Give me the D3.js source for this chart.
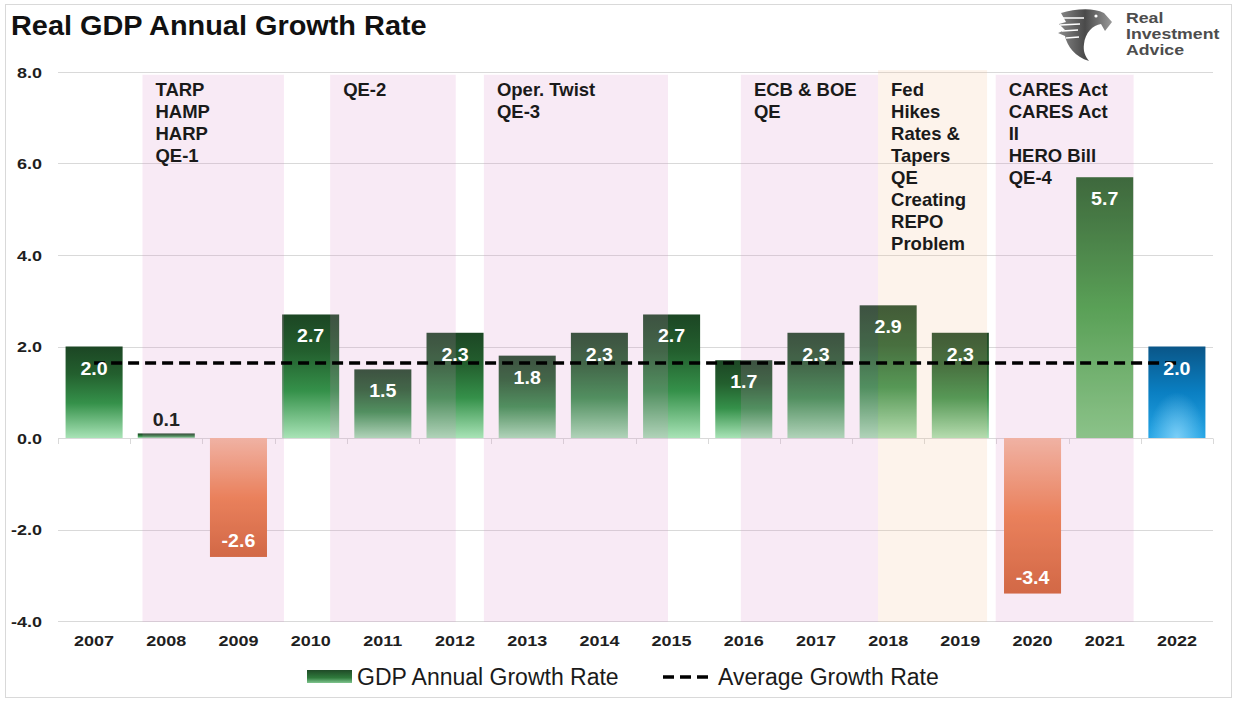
<!DOCTYPE html>
<html>
<head>
<meta charset="utf-8">
<script src="https://cdn.jsdelivr.net/npm/d3@7"></script>
<style>
  html, body { margin: 0; padding: 0; background: #ffffff; }
  svg { display: block; font-family: "Liberation Sans", Arial, Helvetica, sans-serif; }
</style>
</head>
<body>
<svg id="chart" width="1235" height="702"></svg>
<script>
// ---------------- DATA ----------------
const years = ["2007","2008","2009","2010","2011","2012","2013","2014","2015","2016","2017","2018","2019","2020","2021","2022"];
const growthRate = [2.0, 0.1, -2.6, 2.7, 1.5, 2.3, 1.8, 2.3, 2.7, 1.7, 2.3, 2.9, 2.3, -3.4, 5.7, 2.0];
const averageRate = [1.64, 1.64, 1.64, 1.64, 1.64, 1.64, 1.64, 1.64, 1.64, 1.64, 1.64, 1.64, 1.64, 1.64, 1.64, 1.64];
const yTicks = [-4, -2, 0, 2, 4, 6, 8];

// policy programs (time spans in fractional years)
const programLines = [
  ["TARP", "HAMP", "HARP", "QE-1"],
  ["QE-2"],
  ["Oper. Twist", "QE-3"],
  ["ECB & BOE", "QE"],
  ["Fed", "Hikes", "Rates &", "Tapers", "QE", "Creating", "REPO", "Problem"],
  ["CARES Act", "CARES Act", "II", "HERO Bill", "QE-4"]
];
const programStart = [2008.17, 2010.77, 2012.90, 2016.46, 2018.36, 2019.99];
const programEnd   = [2010.13, 2012.51, 2015.45, 2018.36, 2019.87, 2021.90];
const programType  = ["easing", "easing", "easing", "easing", "tightening", "easing"];

const titleText = "Real GDP Annual Growth Rate";
const legendLabels = ["GDP Annual Growth Rate", "Average Growth Rate"];

// ---------------- LAYOUT ----------------
const W = 1235, H = 702;
const plot = { left: 58, right: 1213, top: 72, bottom: 621 };
const svg = d3.select("#chart");
const defs = svg.append("defs");
const fmt = d3.formatLocale({ decimal: ".", thousands: ",", grouping: [3], currency: ["$", ""], minus: "-" }).format(".1f");

const x = d3.scaleBand().domain(years).range([plot.left, plot.right]).paddingInner(0.21).paddingOuter(0.105);
const xTime = d3.scaleLinear().domain([+years[0], +years[years.length - 1] + 1]).range([plot.left, plot.right]);
const y = d3.scaleLinear().domain([-4, 8]).range([plot.bottom, plot.top]);

// gradients
function linGrad(id, stops, horizontal) {
  const g = defs.append("linearGradient").attr("id", id)
    .attr("x1", 0).attr("y1", 0).attr("x2", horizontal ? 1 : 0).attr("y2", horizontal ? 0 : 1);
  stops.forEach(s => g.append("stop").attr("offset", s[0]).attr("stop-color", s[1]).attr("stop-opacity", s[2] == null ? 1 : s[2]));
}
linGrad("gGreen", [[0, "#1c4624"], [0.3, "#235f2e"], [0.62, "#35914a"], [1, "#a8e3b6"]]);
linGrad("gGreen2", [[0, "#1d611f"], [0.5, "#3ea53e"], [1, "#7bcf7c"]]);
linGrad("gOrange", [[0, "#f6bb9c"], [0.5, "#ee7f45"], [1, "#d1612a"]]);
linGrad("gBlue", [[0, "#0a5688"], [0.5, "#0a7fc2"], [1, "#26a6e6"]]);
const rg = defs.append("radialGradient").attr("id", "gBlueGlow").attr("cx", 0.5).attr("cy", 1).attr("r", 0.5);
rg.append("stop").attr("offset", 0).attr("stop-color", "#9fe0ff").attr("stop-opacity", 0.7);
rg.append("stop").attr("offset", 1).attr("stop-color", "#9fe0ff").attr("stop-opacity", 0);
linGrad("gLegend", [[0, "#1f4a27"], [0.6, "#2f7a3c"], [1, "#7fc58e"]]);
linGrad("gLogo", [[0, "#8a8a8a"], [0.5, "#4a4a4a"], [1, "#9a9a9a"]], true);

function barFill(d, i) {
  if (d < 0) return "url(#gOrange)";
  if (i === years.length - 1) return "url(#gBlue)";
  if (i === years.length - 2) return "url(#gGreen2)";
  return "url(#gGreen)";
}

// outer border
svg.append("rect").attr("x", 5.5).attr("y", 4.5).attr("width", 1226).attr("height", 693)
  .attr("fill", "#fff").attr("stroke", "#d9d9d9").attr("stroke-width", 1);

// title
svg.append("text").attr("transform", "translate(11,35) scale(1.07,1)")
  .attr("font-size", 27).attr("font-weight", "bold").attr("fill", "#111").text(titleText);

// logo
const logo = svg.append("g");
logo.append("path")
  .attr("d", "M1061,13 C1074,9 1093,7 1104,13 L1112,22 L1105,31 L1101,24 C1093,25 1085,33 1084,44 C1083,51 1085,56 1089,61 C1075,57 1067,46 1065,36 L1058,33 L1065,30 L1059,24 L1066,22 Z")
  .attr("fill", "url(#gLogo)");
logo.append("path").attr("d", "M1062,18 L1084,18 M1060,25 L1080,24 M1062,31 L1078,30 M1066,38 L1079,37")
  .attr("stroke", "#fff").attr("stroke-width", 1.6).attr("fill", "none");
logo.append("circle").attr("cx", 1096).attr("cy", 16).attr("r", 1.6).attr("fill", "#fff");
["Real", "Investment", "Advice"].forEach((t, k) => {
  logo.append("text").attr("transform", `translate(1126,${23 + k * 15.8}) scale(1.18,1)`)
    .attr("font-size", 15).attr("font-weight", "bold").attr("fill", "#4d4d4d").text(t);
});

// gridlines
svg.append("g").selectAll("line").data(yTicks).join("line")
  .attr("x1", plot.left).attr("x2", plot.right)
  .attr("y1", d => Math.round(y(d)) + 0.5).attr("y2", d => Math.round(y(d)) + 0.5)
  .attr("stroke", "#d9d9d9").attr("stroke-width", 1);

// x-axis tick marks at category boundaries
const bounds = years.map(v => x(v) - x.step() * x.paddingInner() / 2).concat([plot.right]);
svg.append("g").selectAll("line").data(bounds).join("line")
  .attr("x1", d => Math.round(d) + 0.5).attr("x2", d => Math.round(d) + 0.5)
  .attr("y1", Math.round(y(0)) + 0.5).attr("y2", Math.round(y(0)) + 6)
  .attr("stroke", "#d9d9d9");

// y-axis labels
const yAxis = svg.append("g").attr("transform", `translate(${plot.left},0)`)
  .call(d3.axisLeft(y).tickValues(yTicks).tickFormat(fmt).tickSize(0).tickPadding(16));
yAxis.select(".domain").remove();
yAxis.selectAll("text")
  .attr("font-family", '"Liberation Sans", Arial, sans-serif')
  .attr("font-size", 15).attr("font-weight", "bold").attr("fill", "#1f1f1f")
  .attr("x", -16 / 1.2).attr("dy", "0.36em")
  .attr("transform", "scale(1.2,1)");

// x labels
svg.append("g").selectAll("text").data(years).join("text")
  .attr("transform", d => `translate(${x(d) + x.bandwidth() / 2},646) scale(1.2,1)`)
  .attr("text-anchor", "middle").attr("font-size", 15).attr("font-weight", "bold").attr("fill", "#1f1f1f")
  .text(d => d);

// bars
const bars = svg.append("g");
bars.selectAll("rect").data(growthRate).join("rect")
  .attr("x", (d, i) => x(years[i])).attr("width", x.bandwidth())
  .attr("y", d => y(Math.max(0, d))).attr("height", d => Math.abs(y(d) - y(0)))
  .attr("fill", (d, i) => barFill(d, i));
// blue glow on last bar
bars.append("rect")
  .attr("x", x(years[years.length - 1])).attr("width", x.bandwidth())
  .attr("y", y(Math.max(0, growthRate[years.length - 1]))).attr("height", Math.abs(y(growthRate[years.length - 1]) - y(0)))
  .attr("fill", "url(#gBlueGlow)");

// program shading (semi-transparent, over bars)
const shadeColor = { easing: "#d98cc8", tightening: "#f5bc8e" };
svg.append("g").selectAll("rect").data(programStart).join("rect")
  .attr("x", (d, i) => xTime(d)).attr("width", (d, i) => xTime(programEnd[i]) - xTime(d))
  .attr("y", (d, i) => programType[i] === "tightening" ? y(8.04) : y(7.94))
  .attr("height", (d, i) => (programType[i] === "tightening" ? y(-4.02) - y(8.04) : y(-4.02) - y(7.94)))
  .attr("fill", (d, i) => shadeColor[programType[i]]).attr("fill-opacity", 0.18);

// average line
const line = d3.line().x((d, i) => x(years[i]) + x.bandwidth() / 2).y(d => y(d));
svg.append("path").datum(averageRate).attr("d", line)
  .attr("fill", "none").attr("stroke", "#000").attr("stroke-width", 3.6).attr("stroke-dasharray", "11,6");

// data labels
svg.append("g").selectAll("text").data(growthRate).join("text")
  .attr("transform", (d, i) => {
    const cx = x(years[i]) + x.bandwidth() / 2;
    let by;
    if (d < 0) by = y(d) - 10;
    else if (y(0) - y(d) < 30) by = y(d) - 7;
    else by = y(d) + 28;
    return `translate(${cx},${by}) scale(1.12,1)`;
  })
  .attr("text-anchor", "middle").attr("font-size", 17.5).attr("font-weight", "bold")
  .attr("fill", d => (d >= 0 && y(0) - y(d) < 30) ? "#222" : "#fff")
  .text(d => fmt(d));

// program annotations
const ann = svg.append("g");
programLines.forEach((lines, i) => {
  const t = ann.append("text").attr("x", xTime(programStart[i]) + 13).attr("y", 96)
    .attr("font-size", 18.5).attr("font-weight", "bold").attr("fill", "#1a1a1a");
  lines.forEach((l, k) => t.append("tspan").attr("x", xTime(programStart[i]) + 13).attr("dy", k === 0 ? 0 : 22).text(l));
});

// legend
const lg = svg.append("g");
lg.append("rect").attr("x", 307).attr("y", 670).attr("width", 45).attr("height", 13).attr("fill", "url(#gLegend)");
lg.append("text").attr("x", 357).attr("y", 685).attr("font-size", 23).attr("fill", "#1a1a1a").text(legendLabels[0]);
lg.append("line").attr("x1", 663).attr("x2", 712).attr("y1", 677).attr("y2", 677)
  .attr("stroke", "#000").attr("stroke-width", 3.6).attr("stroke-dasharray", "11,6");
lg.append("text").attr("x", 718).attr("y", 685).attr("font-size", 23).attr("fill", "#1a1a1a").text(legendLabels[1]);
</script>
</body>
</html>
